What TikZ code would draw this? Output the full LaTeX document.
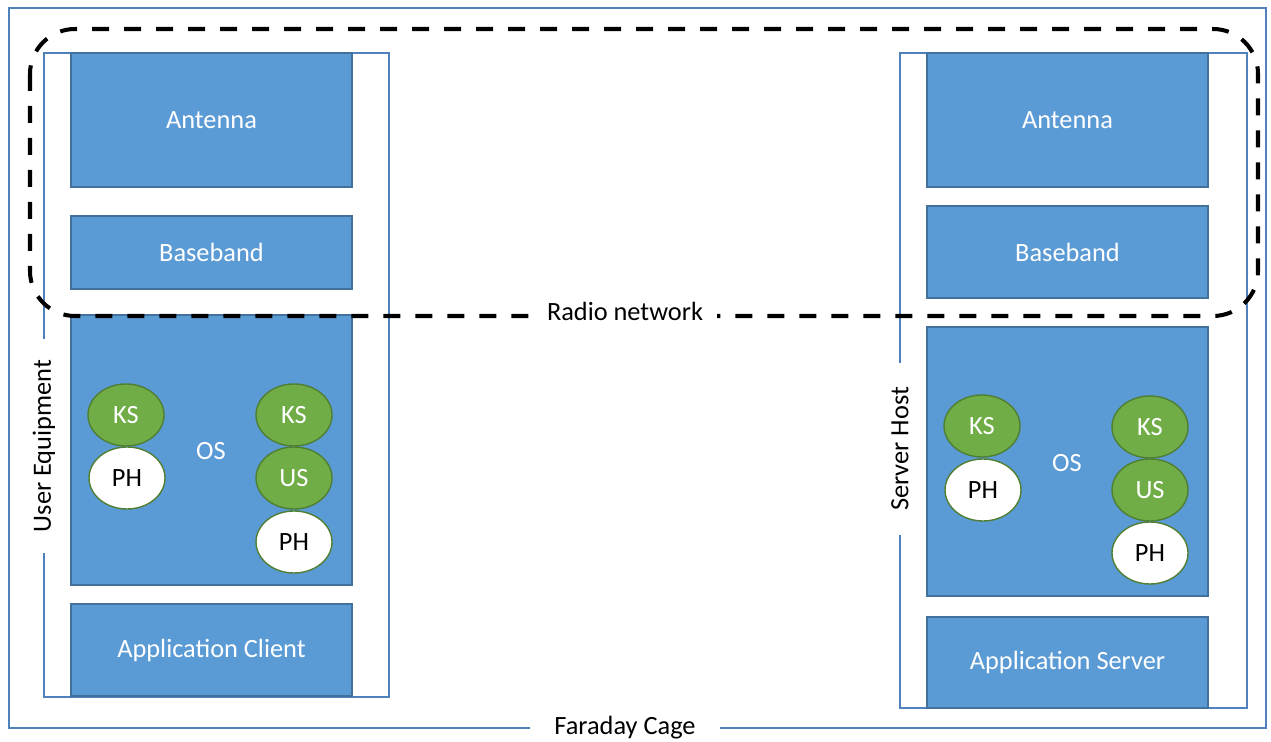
\documentclass[tikz,border=0pt]{standalone}
\usepackage{fontspec}
\setmainfont{Carlito}
\usetikzlibrary{shapes.geometric}
\definecolor{boxblue}{HTML}{5B9BD5}
\definecolor{boxedge}{HTML}{41719C}
\definecolor{frameline}{HTML}{4F81BD}
\definecolor{ksgreen}{HTML}{70AD47}
\definecolor{ksedge}{HTML}{507E32}
\def\pxu{0.02cm}
\tikzset{
  every node/.style={font=\fontsize{15}{18}\selectfont},
  blk/.style={draw=boxedge, line width=0.6pt, fill=boxblue, text=white,
    minimum width=281*\pxu, inner sep=0pt},
  holder/.style={draw=frameline, line width=0.8pt, inner sep=0pt},
  tag/.style={fill=white, inner sep=6pt, text=black},
  gbub/.style={ellipse, draw=ksedge, line width=0.8pt, fill=ksgreen, text=white,
    minimum width=76*\pxu, minimum height=62*\pxu, inner sep=0pt},
  wbub/.style={ellipse, draw=ksedge, line width=0.8pt, fill=white, text=black,
    minimum width=76*\pxu, minimum height=62*\pxu, inner sep=0pt},
  radio/.style={draw=black, line width=2.3pt, dash pattern=on 17*\pxu off 15*\pxu,
    rounded corners=45*\pxu}
}
\begin{document}
\begin{tikzpicture}[x=\pxu, y=-\pxu]
\useasboundingbox (0,0) rectangle (1271,742);

% Faraday cage frame
\node[holder, minimum width=1257*\pxu, minimum height=720*\pxu] (cage) at (637.5,368) {};

% device frames
\node[holder, minimum width=345*\pxu, minimum height=644*\pxu] (ue) at (216.5,375) {};
\node[holder, minimum width=347*\pxu, minimum height=655*\pxu] (srv) at (1073.5,380.5) {};

% user equipment stack
\node[blk, minimum height=134*\pxu] (ueant) at (211.5,120) {Antenna};
\node[blk, minimum height=73*\pxu] (uebb) at (211.5,252.5) {Baseband};
\node[blk, minimum height=270*\pxu] (ueos) at (211.5,450) {};
\node[blk, minimum height=92*\pxu] (ueapp) at (211.5,650) {Application Client};
\node[text=white] (ueoslbl) at (211,451) {OS};
\node[gbub] (ueks1) at (126,415) {KS};
\node[wbub] (ueph1) at (127,478) {PH};
\node[gbub] (ueks2) at (294,415) {KS};
\node[gbub] (ueus2) at (294,478) {US};
\node[wbub] (ueph2) at (294,542) {PH};

% server host stack
\node[blk, minimum height=134*\pxu] (svant) at (1067.5,120) {Antenna};
\node[blk, minimum height=92*\pxu] (svbb) at (1067.5,252) {Baseband};
\node[blk, minimum height=269*\pxu] (svos) at (1067.5,461.5) {};
\node[blk, minimum height=91*\pxu] (svapp) at (1067.5,662.5) {Application Server};
\node[text=white] (svoslbl) at (1067,463) {OS};
\node[gbub] (svks1) at (982,426) {KS};
\node[wbub] (svph1) at (983,490) {PH};
\node[gbub] (svks2) at (1150,427) {KS};
\node[gbub] (svus2) at (1150,490) {US};
\node[wbub] (svph2) at (1150,553) {PH};

% radio network boundary
\draw[radio] (30,29) rectangle (1258,316);
\node[tag, inner xsep=8pt, inner ysep=2pt] (radiolbl) at (625,311) {Radio network};

% frame labels
\node[tag, rotate=90, inner xsep=12pt, inner ysep=2pt] (uelbl) at (44,446) {User Equipment};
\node[tag, rotate=90, inner xsep=14pt, inner ysep=2pt] (svlbl) at (900,449) {Server Host};
\node[tag, inner xsep=14pt, inner ysep=2pt] (cagelbl) at (625,728) {Faraday Cage};
\end{tikzpicture}
\end{document}
